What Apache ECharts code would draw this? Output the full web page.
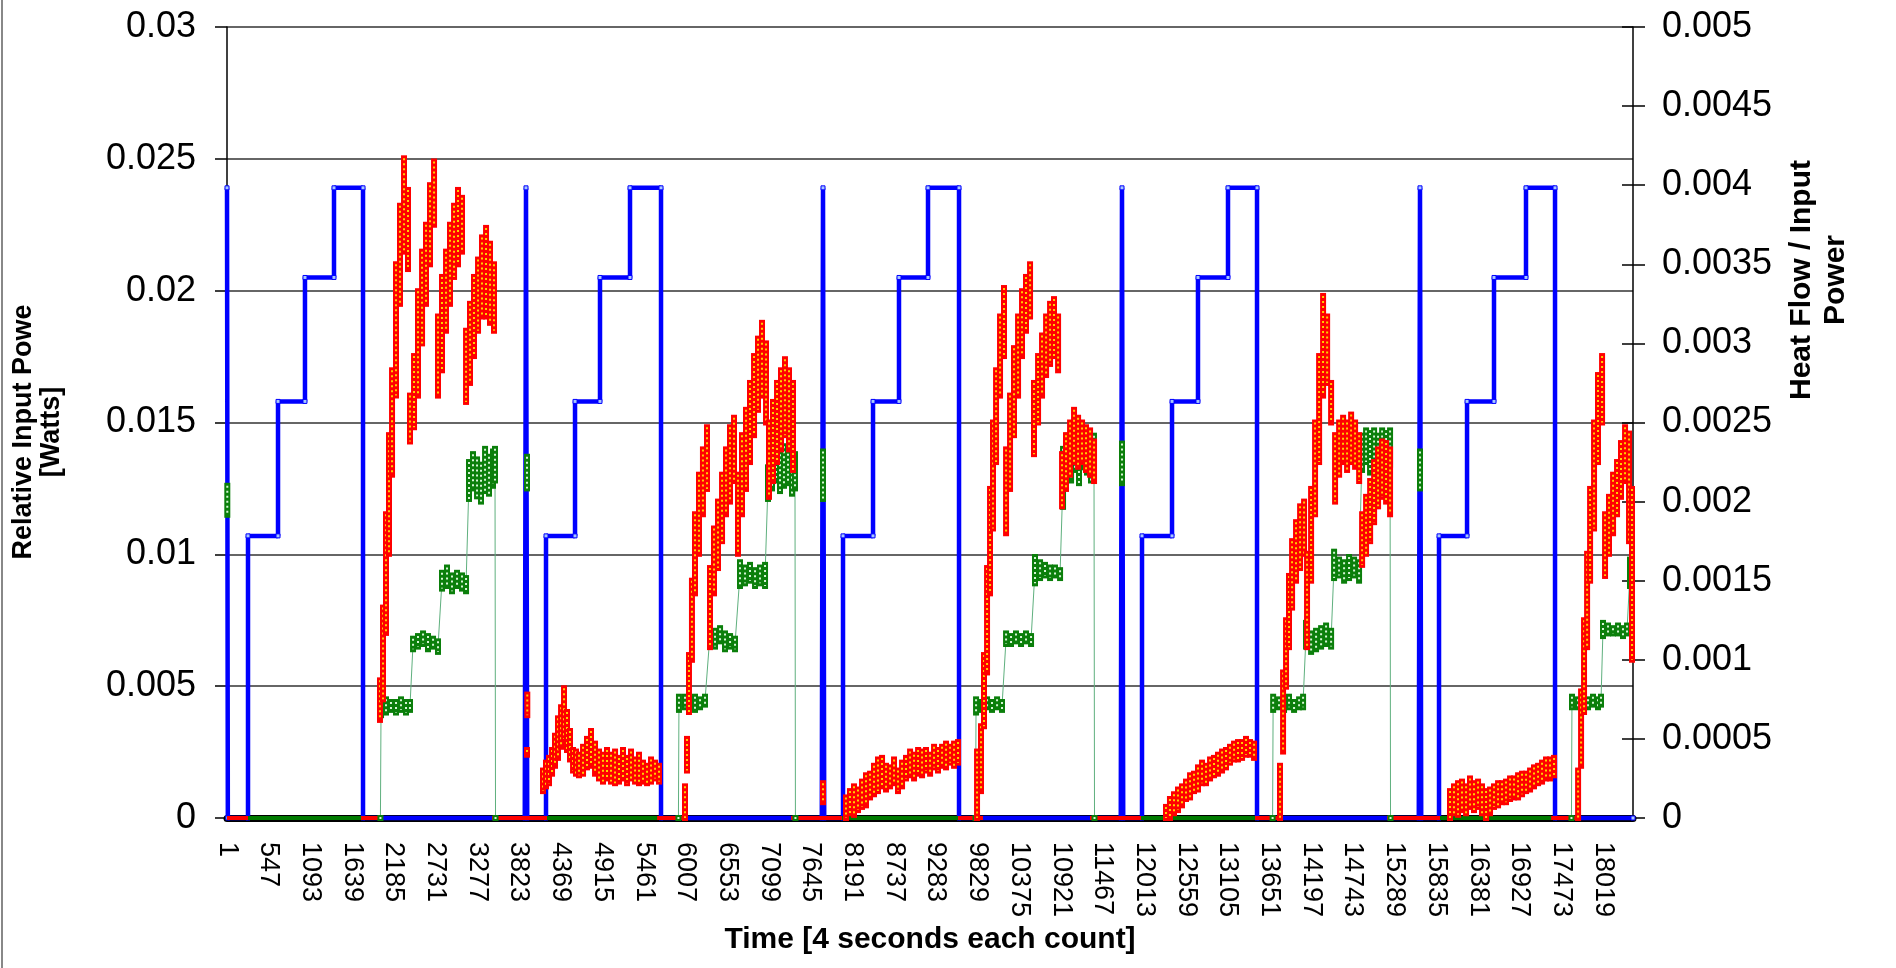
<!DOCTYPE html>
<html>
<head>
<meta charset="utf-8">
<script src="https://cdn.jsdelivr.net/npm/echarts@6/dist/echarts.min.js"></script>
<style>
  html, body { margin: 0; background: #fff; }
  #chart { width: 1896px; height: 968px; }
  #frame { position: absolute; left: 1px; top: 0; width: 2px; height: 968px; background: #888; }
</style>
</head>
<body>
<div id="chart"></div>
<div id="frame"></div>
<script>
const FONT = "'Liberation Sans', Arial, sans-serif";

// axis ticks
const timeTicks = [1, 547, 1093, 1639, 2185, 2731, 3277, 3823, 4369, 4915, 5461, 6007, 6553, 7099, 7645,
  8191, 8737, 9283, 9829, 10375, 10921, 11467, 12013, 12559, 13105, 13651, 14197, 14743, 15289,
  15835, 16381, 16927, 17473, 18019];
const powerTicks = [0, 0.005, 0.01, 0.015, 0.02, 0.025, 0.03];
const ratioTicks = [0, 0.0005, 0.001, 0.0015, 0.002, 0.0025, 0.003, 0.0035, 0.004, 0.0045, 0.005];
const timeMax = 18411;

// blue: applied input power [count, W]
const inputPower = [
  [1, 0.0239], [12, 0], [276, 0], [276, 0.0107], [669, 0.0107], [669, 0.0158], [1022, 0.0158],
  [1022, 0.0205], [1402, 0.0205], [1402, 0.0239], [1782, 0.0239], [1782, 0],
  [3900, 0], [3916, 0.0239], [3932, 0], [4178, 0], [4178, 0.0107], [4558, 0.0107], [4558, 0.0158],
  [4885, 0.0158], [4885, 0.0205], [5278, 0.0205], [5278, 0.0239], [5684, 0.0239], [5684, 0],
  [7789, 0], [7805, 0.0239], [7821, 0], [8067, 0], [8067, 0.0107], [8460, 0.0107], [8460, 0.0158],
  [8800, 0.0158], [8800, 0.0205], [9180, 0.0205], [9180, 0.0239], [9586, 0.0239], [9586, 0],
  [11704, 0], [11720, 0.0239], [11736, 0], [11982, 0], [11982, 0.0107], [12375, 0.0107], [12375, 0.0158],
  [12715, 0.0158], [12715, 0.0205], [13108, 0.0205], [13108, 0.0239], [13488, 0.0239], [13488, 0],
  [15606, 0], [15622, 0.0239], [15638, 0], [15871, 0], [15871, 0.0107], [16238, 0.0107], [16238, 0.0158],
  [16591, 0.0158], [16591, 0.0205], [17010, 0.0205], [17010, 0.0239], [17390, 0.0239], [17390, 0],
  [18411, 0]
];

// spans where the red / green series sit on zero [from, to]
const ratioZeroSpans = [[1, 276], [1756, 2044], [3471, 4191], [5632, 6037], [7386, 8054],
  [9573, 9900], [11301, 11969], [13462, 13750], [15190, 15884], [17338, 17730]];
const relZeroSpans = [[276, 1756], [4191, 5632], [8054, 9573], [11969, 13462], [15884, 17338]];

// green: relative input power, [count, low, high] in W
const relPowerCols = [
  [5, 0.0115, 0.0126],
  [2010, 0, 0], [2018, 0.0039, 0.0044], [2083, 0.0040, 0.0045], [2148, 0.0041, 0.0044], [2214, 0.0040, 0.0044],
  [2279, 0.0041, 0.0045], [2345, 0.0040, 0.0044], [2397, 0.0041, 0.0044],
  [2437, 0.0064, 0.0068], [2502, 0.0065, 0.0069], [2568, 0.0066, 0.0070], [2633, 0.0064, 0.0069],
  [2699, 0.0065, 0.0068], [2764, 0.0063, 0.0067],
  [2816, 0.0087, 0.0093], [2882, 0.0088, 0.0095], [2947, 0.0086, 0.0092], [3013, 0.0088, 0.0093],
  [3078, 0.0087, 0.0092], [3131, 0.0086, 0.0091],
  [3170, 0.0121, 0.0135], [3222, 0.0125, 0.0138], [3275, 0.0122, 0.0136], [3327, 0.0120, 0.0134],
  [3380, 0.0124, 0.0140], [3432, 0.0123, 0.0137], [3484, 0.0126, 0.0139], [3510, 0.0128, 0.0140], [3517, 0, 0],
  [3929, 0.0125, 0.0137],
  [5912, 0, 0], [5919, 0.0041, 0.0046], [5998, 0.0042, 0.0046], [6064, 0.0042, 0.0045], [6129, 0.0041, 0.0046],
  [6195, 0.0042, 0.0045], [6260, 0.0043, 0.0046],
  [6325, 0.0066, 0.0073], [6391, 0.0065, 0.0071], [6457, 0.0067, 0.0072], [6522, 0.0064, 0.0070],
  [6588, 0.0065, 0.0069], [6653, 0.0064, 0.0068],
  [6718, 0.0088, 0.0097], [6784, 0.0089, 0.0095], [6849, 0.0090, 0.0096], [6915, 0.0088, 0.0094],
  [6980, 0.0089, 0.0095], [7046, 0.0088, 0.0096],
  [7085, 0.0121, 0.0133], [7137, 0.0125, 0.0140], [7190, 0.0128, 0.0143], [7242, 0.0124, 0.0138],
  [7294, 0.0126, 0.0141], [7347, 0.0127, 0.0140], [7399, 0.0123, 0.0139], [7438, 0.0125, 0.0138], [7444, 0, 0],
  [7805, 0.0121, 0.0139],
  [9802, 0, 0], [9809, 0.0040, 0.0045], [9887, 0.0041, 0.0044], [9953, 0.0042, 0.0045], [10018, 0.0041, 0.0044],
  [10084, 0.0042, 0.0045], [10149, 0.0041, 0.0044],
  [10202, 0.0066, 0.0070], [10267, 0.0066, 0.0069], [10332, 0.0067, 0.0070], [10398, 0.0066, 0.0069],
  [10463, 0.0067, 0.0070], [10529, 0.0066, 0.0069],
  [10581, 0.0089, 0.0099], [10647, 0.0091, 0.0097], [10712, 0.0092, 0.0096], [10778, 0.0091, 0.0095],
  [10843, 0.0092, 0.0095], [10909, 0.0091, 0.0094],
  [10948, 0.0118, 0.0140], [11000, 0.0130, 0.0145], [11053, 0.0128, 0.0147], [11105, 0.0132, 0.0145],
  [11157, 0.0127, 0.0143], [11210, 0.0133, 0.0146], [11262, 0.0131, 0.0144], [11314, 0.0128, 0.0142],
  [11353, 0.0135, 0.0145], [11360, 0, 0],
  [11720, 0.0127, 0.0142],
  [13692, 0, 0], [13699, 0.0041, 0.0046], [13776, 0.0042, 0.0045], [13842, 0.0041, 0.0045], [13907, 0.0042, 0.0046],
  [13973, 0.0041, 0.0044], [14039, 0.0042, 0.0045], [14091, 0.0042, 0.0046],
  [14130, 0.0065, 0.0074], [14196, 0.0063, 0.0070], [14261, 0.0064, 0.0071], [14327, 0.0065, 0.0072],
  [14392, 0.0066, 0.0073], [14458, 0.0065, 0.0071],
  [14497, 0.0091, 0.0101], [14562, 0.0092, 0.0098], [14628, 0.0090, 0.0097], [14693, 0.0091, 0.0099],
  [14759, 0.0092, 0.0098], [14824, 0.0090, 0.0097],
  [14863, 0.0132, 0.0145], [14916, 0.0135, 0.0147], [14968, 0.0131, 0.0146], [15021, 0.0134, 0.0147],
  [15073, 0.0132, 0.0145], [15126, 0.0135, 0.0147], [15178, 0.0133, 0.0146], [15230, 0.0134, 0.0147], [15236, 0, 0],
  [15622, 0.0125, 0.0139],
  [17605, 0, 0], [17612, 0.0042, 0.0046], [17691, 0.0042, 0.0045], [17756, 0.0043, 0.0046], [17822, 0.0042, 0.0045],
  [17887, 0.0043, 0.0046], [17953, 0.0042, 0.0045], [17992, 0.0043, 0.0046],
  [18018, 0.0069, 0.0074], [18084, 0.0070, 0.0073], [18149, 0.0070, 0.0072], [18215, 0.0070, 0.0073],
  [18280, 0.0069, 0.0072], [18333, 0.0070, 0.0073],
  [18372, 0.0088, 0.0098], [18398, 0.0090, 0.0097]
];

// red: heat flow / input power, [count, low, high]
const heatRatioCols = [
  [2004, 0.00062, 0.00087], [2044, 0.00075, 0.00133], [2083, 0.00117, 0.00192], [2122, 0.00167, 0.00242],
  [2162, 0.00217, 0.00283], [2214, 0.00267, 0.00350], [2266, 0.00325, 0.00387], [2319, 0.00358, 0.00417],
  [2371, 0.00347, 0.00397],
  [2397, 0.00238, 0.00267], [2450, 0.00247, 0.00292], [2502, 0.00267, 0.00333], [2555, 0.00300, 0.00358],
  [2607, 0.00325, 0.00375], [2659, 0.00350, 0.00400], [2712, 0.00375, 0.00415],
  [2764, 0.00267, 0.00317], [2816, 0.00283, 0.00342], [2869, 0.00308, 0.00358], [2921, 0.00325, 0.00375],
  [2974, 0.00342, 0.00387], [3026, 0.00350, 0.00397], [3078, 0.00358, 0.00392],
  [3131, 0.00263, 0.00308], [3183, 0.00275, 0.00325], [3235, 0.00292, 0.00342], [3288, 0.00308, 0.00353],
  [3340, 0.00317, 0.00367], [3393, 0.00317, 0.00373], [3445, 0.00313, 0.00363], [3497, 0.00308, 0.00350],

  [3929, 0.00040, 0.00043], [3933, 0.00065, 0.00078],
  [4139, 0.00017, 0.00030], [4178, 0.00020, 0.00035], [4217, 0.00022, 0.00038], [4257, 0.00028, 0.00043],
  [4296, 0.00033, 0.00052], [4335, 0.00038, 0.00063], [4375, 0.00045, 0.00070], [4414, 0.00050, 0.00082],
  [4453, 0.00043, 0.00067], [4492, 0.00037, 0.00055], [4532, 0.00030, 0.00043], [4571, 0.00028, 0.00042],
  [4610, 0.00027, 0.00040], [4663, 0.00028, 0.00045], [4715, 0.00032, 0.00050], [4767, 0.00033, 0.00055],
  [4820, 0.00028, 0.00047], [4872, 0.00025, 0.00042], [4924, 0.00023, 0.00040], [4977, 0.00025, 0.00043],
  [5029, 0.00023, 0.00040], [5082, 0.00022, 0.00042], [5134, 0.00023, 0.00038], [5186, 0.00025, 0.00043],
  [5239, 0.00022, 0.00038], [5291, 0.00025, 0.00042], [5344, 0.00023, 0.00037], [5396, 0.00022, 0.00040],
  [5448, 0.00023, 0.00035], [5501, 0.00022, 0.00033], [5553, 0.00023, 0.00037], [5606, 0.00025, 0.00035],
  [5658, 0.00023, 0.00033],
  [5998, 0, 0.00020], [6024, 0.00030, 0.00050], [6050, 0.00067, 0.00103], [6089, 0.00100, 0.00150],
  [6129, 0.00142, 0.00192], [6181, 0.00167, 0.00217], [6233, 0.00192, 0.00233], [6286, 0.00208, 0.00247],
  [6325, 0.00108, 0.00158], [6378, 0.00142, 0.00183], [6430, 0.00158, 0.00200], [6483, 0.00175, 0.00217],
  [6535, 0.00192, 0.00233], [6587, 0.00200, 0.00247], [6640, 0.00213, 0.00253],
  [6692, 0.00167, 0.00217], [6744, 0.00192, 0.00242], [6797, 0.00208, 0.00258], [6849, 0.00225, 0.00275],
  [6902, 0.00242, 0.00292], [6954, 0.00258, 0.00303], [7006, 0.00267, 0.00313], [7059, 0.00250, 0.00300],
  [7098, 0.00203, 0.00250], [7150, 0.00213, 0.00263], [7203, 0.00225, 0.00275], [7255, 0.00233, 0.00283],
  [7307, 0.00242, 0.00290], [7360, 0.00233, 0.00283], [7412, 0.00220, 0.00275],

  [7805, 0.00010, 0.00022],
  [8106, 0, 0.00013], [8158, 0.00003, 0.00017], [8211, 0.00002, 0.00020], [8263, 0.00005, 0.00018],
  [8316, 0.00007, 0.00023], [8368, 0.00008, 0.00027], [8421, 0.00013, 0.00028], [8473, 0.00015, 0.00033],
  [8525, 0.00017, 0.00037], [8578, 0.00020, 0.00038], [8630, 0.00018, 0.00033], [8683, 0.00020, 0.00032],
  [8735, 0.00022, 0.00037], [8787, 0.00017, 0.00030], [8840, 0.00020, 0.00035], [8892, 0.00025, 0.00038],
  [8945, 0.00027, 0.00042], [8997, 0.00025, 0.00040], [9050, 0.00028, 0.00043], [9102, 0.00027, 0.00042],
  [9154, 0.00030, 0.00043], [9207, 0.00028, 0.00040], [9259, 0.00032, 0.00045], [9311, 0.00030, 0.00043],
  [9364, 0.00033, 0.00045], [9416, 0.00032, 0.00047], [9469, 0.00035, 0.00045], [9521, 0.00033, 0.00047],
  [9573, 0.00035, 0.00048],
  [9822, 0, 0.00042], [9874, 0.00017, 0.00058], [9913, 0.00058, 0.00103], [9953, 0.00092, 0.00158],
  [9992, 0.00142, 0.00208], [10031, 0.00183, 0.00250], [10071, 0.00225, 0.00283], [10123, 0.00267, 0.00317],
  [10175, 0.00292, 0.00335],
  [10202, 0.00180, 0.00233], [10254, 0.00208, 0.00267], [10306, 0.00242, 0.00297], [10359, 0.00267, 0.00317],
  [10411, 0.00292, 0.00333], [10463, 0.00308, 0.00342], [10516, 0.00317, 0.00350],
  [10568, 0.00230, 0.00275], [10621, 0.00250, 0.00292], [10673, 0.00267, 0.00305], [10726, 0.00280, 0.00317],
  [10778, 0.00287, 0.00325], [10830, 0.00292, 0.00328], [10883, 0.00283, 0.00317],
  [10935, 0.00197, 0.00230], [10987, 0.00208, 0.00242], [11040, 0.00217, 0.00250], [11092, 0.00225, 0.00258],
  [11145, 0.00222, 0.00253], [11197, 0.00225, 0.00250], [11249, 0.00220, 0.00247], [11302, 0.00217, 0.00245],
  [11354, 0.00213, 0.00238],

  [12296, 0, 0.00007], [12348, 0, 0.00012], [12401, 0.00003, 0.00015], [12453, 0.00005, 0.00018],
  [12506, 0.00008, 0.00020], [12558, 0.00012, 0.00023], [12611, 0.00013, 0.00027], [12663, 0.00017, 0.00028],
  [12715, 0.00018, 0.00032], [12768, 0.00022, 0.00035], [12820, 0.00022, 0.00033], [12873, 0.00025, 0.00037],
  [12925, 0.00027, 0.00038], [12977, 0.00028, 0.00040], [13030, 0.00030, 0.00042], [13082, 0.00032, 0.00043],
  [13134, 0.00035, 0.00045], [13187, 0.00037, 0.00047], [13239, 0.00037, 0.00048], [13292, 0.00038, 0.00048],
  [13344, 0.00040, 0.00050], [13396, 0.00040, 0.00048], [13449, 0.00038, 0.00047],
  [13789, 0, 0.00033], [13829, 0.00042, 0.00092], [13868, 0.00083, 0.00125], [13907, 0.00108, 0.00153],
  [13947, 0.00133, 0.00175], [13999, 0.00150, 0.00187], [14052, 0.00158, 0.00197], [14104, 0.00167, 0.00200],
  [14143, 0.00108, 0.00167], [14196, 0.00150, 0.00208], [14248, 0.00192, 0.00250], [14301, 0.00225, 0.00292],
  [14353, 0.00267, 0.00330], [14406, 0.00275, 0.00317], [14458, 0.00250, 0.00275],
  [14510, 0.00200, 0.00242], [14563, 0.00217, 0.00250], [14615, 0.00225, 0.00253], [14667, 0.00220, 0.00250],
  [14720, 0.00225, 0.00255], [14772, 0.00222, 0.00250], [14825, 0.00213, 0.00242],
  [14864, 0.00160, 0.00192], [14916, 0.00167, 0.00203], [14969, 0.00175, 0.00213], [15021, 0.00187, 0.00225],
  [15073, 0.00197, 0.00233], [15126, 0.00203, 0.00238], [15178, 0.00200, 0.00237], [15230, 0.00192, 0.00233],

  [16015, 0, 0.00017], [16067, 0.00003, 0.00020], [16120, 0.00002, 0.00022], [16172, 0.00005, 0.00023],
  [16225, 0.00003, 0.00020], [16277, 0.00007, 0.00025], [16329, 0.00005, 0.00022], [16382, 0.00007, 0.00023],
  [16434, 0.00003, 0.00020], [16487, 0, 0.00017], [16539, 0.00003, 0.00018], [16591, 0.00007, 0.00020],
  [16644, 0.00008, 0.00022], [16696, 0.00010, 0.00022], [16748, 0.00010, 0.00023], [16801, 0.00012, 0.00025],
  [16853, 0.00013, 0.00025], [16906, 0.00013, 0.00027], [16958, 0.00015, 0.00028], [17011, 0.00017, 0.00028],
  [17063, 0.00018, 0.00030], [17115, 0.00020, 0.00032], [17168, 0.00022, 0.00033], [17220, 0.00023, 0.00035],
  [17272, 0.00025, 0.00037], [17325, 0.00025, 0.00037], [17377, 0.00027, 0.00038],
  [17692, 0, 0.00030], [17731, 0.00033, 0.00080], [17770, 0.00067, 0.00125], [17810, 0.00108, 0.00167],
  [17849, 0.00150, 0.00208], [17901, 0.00183, 0.00250], [17953, 0.00225, 0.00280], [18006, 0.00250, 0.00292],
  [18045, 0.00153, 0.00192], [18097, 0.00167, 0.00203], [18150, 0.00180, 0.00217], [18202, 0.00192, 0.00225],
  [18254, 0.00203, 0.00237], [18307, 0.00213, 0.00247],
  [18359, 0.00175, 0.00243], [18398, 0.00100, 0.00208]
];

function zeroLine(spans) {
  const out = [];
  spans.forEach(([a, b]) => { out.push([a, 0], [b, 0], [b, '-']); });
  return out;
}

// thin connecting trace through the green clusters, broken between runs
function traceOf(cols) {
  const out = [];
  let prev = null;
  cols.forEach((c) => {
    if (prev !== null && c[0] - prev > 200) out.push([c[0], '-']);
    out.push([c[0], (c[1] + c[2]) / 2]);
    prev = c[0];
  });
  return out;
}

// each cluster column is drawn as a stack of square markers
function columns(edge, core) {
  return function (params, api) {
    const x = api.value(0);
    const top = api.coord([x, api.value(2)]);
    const bot = api.coord([x, api.value(1)]);
    const h = bot[1] - top[1];
    const children = [{
      type: 'rect',
      shape: { x: top[0] - 3, y: top[1] - 3, width: 6, height: h + 6 },
      style: { fill: edge }
    }];
    if (h < 4) {
      children.push({
        type: 'rect',
        shape: { x: top[0] - 1, y: top[1] + h / 2 - 1, width: 2, height: 2 },
        style: { fill: core }
      });
    } else {
      children.push({
        type: 'line',
        shape: { x1: top[0], y1: top[1], x2: top[0], y2: bot[1] },
        style: { stroke: core, lineWidth: 2, lineDash: [2, 3] }
      });
    }
    return { type: 'group', children: children };
  };
}

const chart = echarts.init(document.getElementById('chart'));

const axisText = { color: '#000', fontFamily: FONT };
const blackLine = { color: '#000', width: 1.5 };
const fmt = (v) => String(+v.toFixed(4));

const option = {
  animation: false,
  backgroundColor: '#fff',
  textStyle: { fontFamily: FONT },
  grid: { left: 227, right: 263, top: 27, bottom: 150, containLabel: false, outerBoundsMode: 'none' },
  xAxis: [
    {
      type: 'value',
      min: timeTicks[0],
      max: timeMax,
      interval: timeTicks[1] - timeTicks[0],
      axisLine: { show: false },
      axisTick: { show: false },
      splitLine: { show: false },
      axisLabel: {
        ...axisText,
        rotate: -90,
        margin: 24,
        fontSize: 27,
        formatter: (v) => (timeTicks.includes(v) ? String(v) : '')
      },
      name: 'Time [4 seconds each count]',
      nameLocation: 'middle',
      nameGap: 107,
      nameTextStyle: { ...axisText, fontSize: 30, fontWeight: 'bold' }
    },
    {
      type: 'value',
      min: timeTicks[0],
      max: timeMax,
      position: 'bottom',
      offset: 5.5,
      axisLine: { show: true, lineStyle: { color: '#000', width: 7 } },
      axisTick: { show: false },
      axisLabel: { show: false },
      splitLine: { show: false }
    }
  ],
  yAxis: [
    {
      type: 'value',
      position: 'left',
      min: powerTicks[0],
      max: powerTicks[powerTicks.length - 1],
      interval: powerTicks[1],
      axisLine: { show: true, lineStyle: blackLine },
      axisTick: { show: true, length: 12, lineStyle: blackLine },
      axisLabel: { ...axisText, fontSize: 36, margin: 31, formatter: fmt },
      splitLine: { show: true, lineStyle: { color: '#333', width: 1.5 } }
    },
    {
      type: 'value',
      position: 'right',
      min: ratioTicks[0],
      max: ratioTicks[ratioTicks.length - 1],
      interval: ratioTicks[1],
      axisLine: { show: true, lineStyle: blackLine },
      axisTick: { show: true, length: 12, lineStyle: blackLine },
      axisLabel: { ...axisText, fontSize: 36, margin: 29, formatter: fmt },
      splitLine: { show: false }
    },
    {
      type: 'value',
      position: 'right',
      min: ratioTicks[0],
      max: ratioTicks[ratioTicks.length - 1],
      interval: ratioTicks[1],
      axisLine: { show: false },
      axisTick: { show: true, inside: true, length: 11, lineStyle: blackLine },
      axisLabel: { show: false },
      splitLine: { show: false }
    }
  ],
  graphic: [
    {
      type: 'text',
      x: 38,
      y: 432,
      rotation: Math.PI / 2,
      style: {
        text: 'Relative Input Powe\n[Watts]',
        fontSize: 27,
        fontWeight: 'bold',
        fontFamily: FONT,
        fill: '#000',
        align: 'center',
        verticalAlign: 'middle',
        lineHeight: 28
      }
    },
    {
      type: 'text',
      x: 1819,
      y: 280,
      rotation: Math.PI / 2,
      style: {
        text: 'Heat Flow / Input\nPower',
        fontSize: 30,
        fontWeight: 'bold',
        fontFamily: FONT,
        fill: '#000',
        align: 'center',
        verticalAlign: 'middle',
        lineHeight: 34
      }
    }
  ],
  series: [
    {
      name: 'Input Power',
      type: 'line',
      yAxisIndex: 0,
      data: inputPower,
      clip: false,
      symbol: 'rect',
      symbolSize: 4,
      showAllSymbol: true,
      lineStyle: { color: '#0000ff', width: 4.5 },
      itemStyle: { color: '#a8c8ff', borderColor: '#0000ff', borderWidth: 1 },
      z: 2
    },
    {
      name: 'Heat Flow zero',
      type: 'line',
      yAxisIndex: 1,
      data: zeroLine(ratioZeroSpans),
      clip: false,
      symbol: 'none',
      lineStyle: { color: '#ff0000', width: 4 },
      z: 3
    },
    {
      name: 'Relative zero',
      type: 'line',
      yAxisIndex: 0,
      data: zeroLine(relZeroSpans),
      clip: false,
      symbol: 'none',
      lineStyle: { color: '#007a00', width: 4 },
      z: 4
    },
    {
      name: 'Relative trace',
      type: 'line',
      yAxisIndex: 0,
      data: traceOf(relPowerCols),
      clip: false,
      symbol: 'none',
      lineStyle: { color: '#5fb07e', width: 1 },
      z: 5
    },
    {
      name: 'Relative Input Power',
      type: 'custom',
      yAxisIndex: 0,
      data: relPowerCols,
      encode: { x: 0, y: [1, 2] },
      renderItem: columns('#0b7f0b', '#d6f5d6'),
      z: 6
    },
    {
      name: 'Heat Flow / Input Power',
      type: 'custom',
      yAxisIndex: 1,
      data: heatRatioCols,
      encode: { x: 0, y: [1, 2] },
      renderItem: columns('#ff0000', '#ffd000'),
      z: 7
    }
  ]
};

chart.setOption(option);
</script>
</body>
</html>
